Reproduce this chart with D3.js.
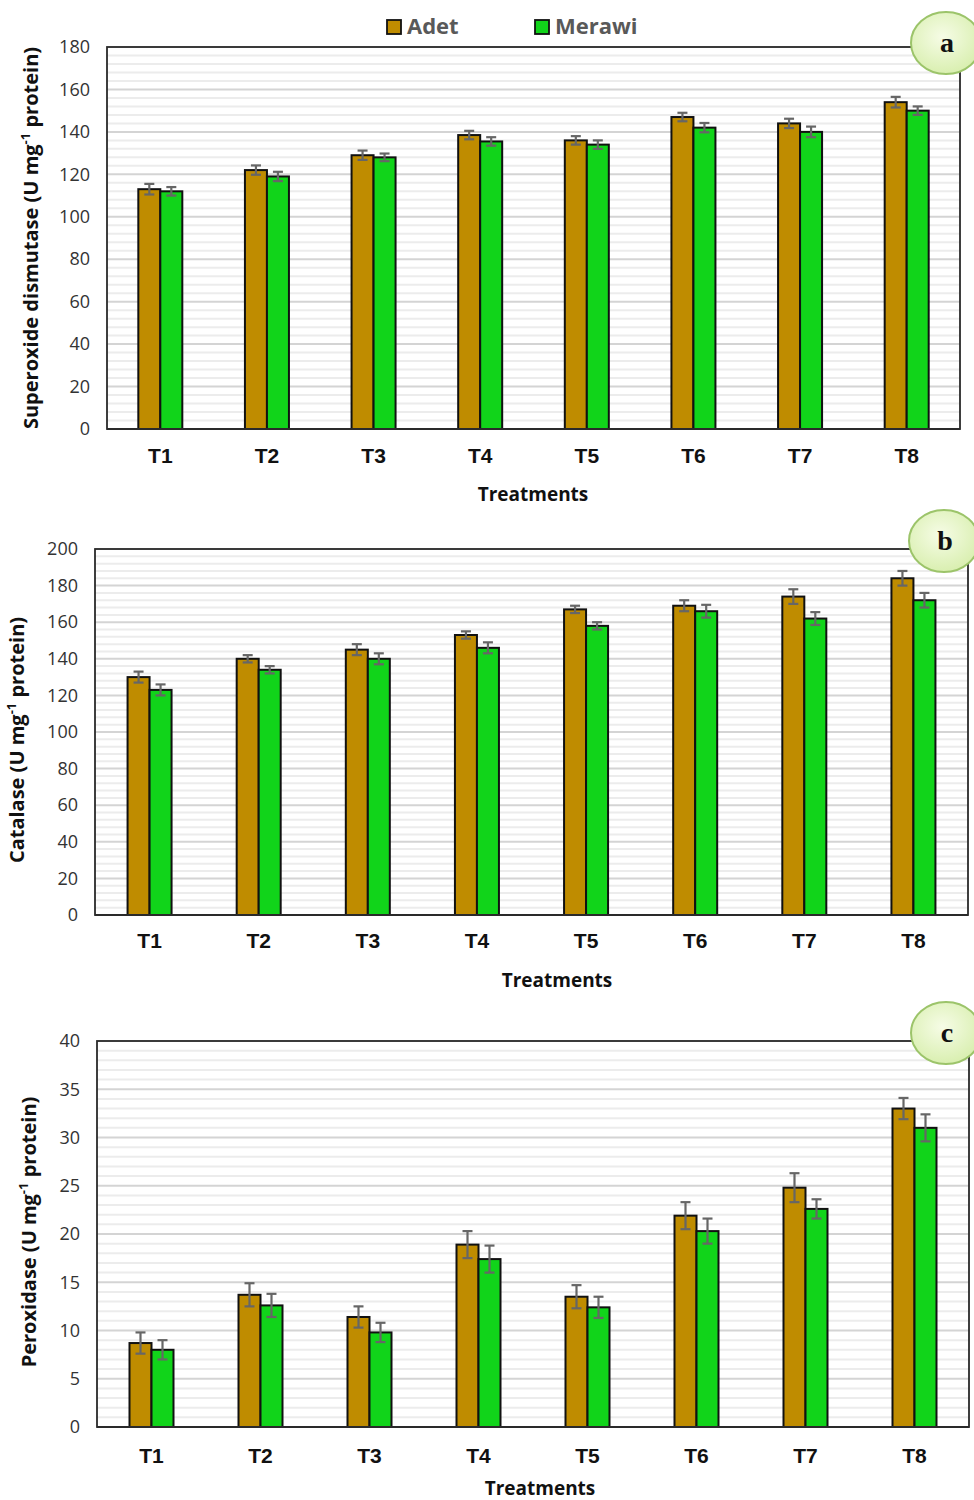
<!DOCTYPE html>
<html><head><meta charset="utf-8">
<script src="https://cdn.jsdelivr.net/npm/d3@7"></script>
<style>body{margin:0;background:#fff}svg{display:block}</style>
</head><body>
<svg id="c" width="974" height="1500"></svg>
<script>
const categories = ["T1","T2","T3","T4","T5","T6","T7","T8"];
const seriesNames = ["Adet","Merawi"];
// Panel a: Superoxide dismutase
const sodAdet   = [113,122,129,138.5,136,147,144,154];
const sodMerawi = [112,119,128,135.5,134,142,140,150];
const sodAdetErr   = [2.5,2.2,2.2,2,2,2,2.2,2.5];
const sodMerawiErr = [2,2.2,1.8,2,2,2.2,2.5,2];
const sodTicks = [0,20,40,60,80,100,120,140,160,180];
// Panel b: Catalase
const catAdet   = [130,140,145,153,167,169,174,184];
const catMerawi = [123,134,140,146,158,166,162,172];
const catAdetErr   = [3,2,3,2,2,3,4,4];
const catMerawiErr = [3,2,3,3,2,3.5,3.5,4];
const catTicks = [0,20,40,60,80,100,120,140,160,180,200];
// Panel c: Peroxidase
const poxAdet   = [8.7,13.7,11.4,18.9,13.5,21.9,24.8,33.0];
const poxMerawi = [8.0,12.6,9.8,17.4,12.4,20.3,22.6,31.0];
const poxAdetErr   = [1.1,1.2,1.1,1.4,1.2,1.4,1.5,1.1];
const poxMerawiErr = [1.0,1.2,1.0,1.4,1.1,1.3,1.0,1.4];
const poxTicks = [0,5,10,15,20,25,30,35,40];

const colors = {Adet:"#bf8c00", Merawi:"#11d41a"};
const svg = d3.select("#c");
const defs = svg.append("defs");
const rg = defs.append("radialGradient").attr("id","bg").attr("cx","45%").attr("cy","40%").attr("r","60%");
rg.append("stop").attr("offset","0%").attr("stop-color","#f6fce6");
rg.append("stop").attr("offset","100%").attr("stop-color","#d9efb0");

function panel(o){
  const g = svg.append("g");
  const x = d3.scaleBand().domain(categories).range([o.left,o.right]);
  const x1 = d3.scaleBand().domain(seriesNames).range([0, o.barW*2]);
  const y = d3.scaleLinear().domain([0,o.ticks[o.ticks.length-1]]).range([o.bottom,o.top]);
  const step = o.ticks[1]-o.ticks[0];
  const minorStep = step/5;
  const minor = d3.range(0, o.ticks[o.ticks.length-1]+1e-9, minorStep).filter(v=>!o.ticks.some(t=>Math.abs(t-v)<1e-9));
  g.selectAll(".mn").data(minor).join("line")
    .attr("x1",o.left).attr("x2",o.right).attr("y1",d=>y(d)).attr("y2",d=>y(d))
    .attr("stroke","#ececec").attr("stroke-width",2);
  g.selectAll(".mj").data(o.ticks.slice(1)).join("line")
    .attr("x1",o.left).attr("x2",o.right).attr("y1",d=>y(d)).attr("y2",d=>y(d))
    .attr("stroke","#d4d4d4").attr("stroke-width",2);
  g.append("rect").attr("x",o.left).attr("y",o.top).attr("width",o.right-o.left).attr("height",o.bottom-o.top)
    .attr("fill","none").attr("stroke","#2a2a2a").attr("stroke-width",1.8);
  const ya = d3.axisLeft(y).tickValues(o.ticks).tickSize(0).tickPadding(0);
  const yg = g.append("g").attr("transform",`translate(${o.tickX},0)`).call(ya);
  yg.select(".domain").remove();
  yg.selectAll("text").attr("font-family","Open Sans, sans-serif").attr("font-size",18).attr("fill","#333");
  const xa = d3.axisBottom(x).tickSize(0).tickPadding(0);
  const xg = g.append("g").attr("transform",`translate(0,${o.catY})`).call(xa);
  xg.select(".domain").remove();
  xg.selectAll("text").attr("font-family","Liberation Sans, Arial, sans-serif").attr("font-weight","bold").attr("font-size",21).attr("fill","#111").attr("dy","0");
  const data = [];
  categories.forEach((c,i)=>{
    data.push({c, s:"Adet", v:o.a[i], e:o.ae[i]});
    data.push({c, s:"Merawi", v:o.m[i], e:o.me[i]});
  });
  const bx = d=> x(d.c)+x.bandwidth()/2 - o.barW + x1(d.s);
  g.selectAll(".bar").data(data).join("rect")
    .attr("x",bx).attr("y",d=>y(d.v)).attr("width",x1.bandwidth()).attr("height",d=>o.bottom-y(d.v))
    .attr("fill",d=>colors[d.s]).attr("stroke","#111").attr("stroke-width",2);
  const eg = g.selectAll(".eb").data(data).join("g").attr("stroke","#666").attr("stroke-width",2.2);
  eg.append("line").attr("x1",d=>bx(d)+x1.bandwidth()/2).attr("x2",d=>bx(d)+x1.bandwidth()/2)
    .attr("y1",d=>y(d.v+d.e)).attr("y2",d=>y(d.v-d.e));
  eg.append("line").attr("x1",d=>bx(d)+x1.bandwidth()/2-5).attr("x2",d=>bx(d)+x1.bandwidth()/2+5)
    .attr("y1",d=>y(d.v+d.e)).attr("y2",d=>y(d.v+d.e));
  eg.append("line").attr("x1",d=>bx(d)+x1.bandwidth()/2-5).attr("x2",d=>bx(d)+x1.bandwidth()/2+5)
    .attr("y1",d=>y(d.v-d.e)).attr("y2",d=>y(d.v-d.e));
  g.append("line").attr("x1",o.left).attr("x2",o.right).attr("y1",o.bottom).attr("y2",o.bottom).attr("stroke","#2a2a2a").attr("stroke-width",1.8);
  g.append("text").attr("x",o.xtX).attr("y",o.xtY).attr("text-anchor","middle")
    .attr("font-family","Open Sans, sans-serif").attr("font-weight","bold").attr("font-size",19).attr("fill","#111").text("Treatments");
  const yt = g.append("text").attr("transform",`translate(${o.ytX},${o.ytY}) rotate(-90)`).attr("text-anchor","middle")
    .attr("font-family","Open Sans, sans-serif").attr("font-weight","bold").attr("font-size",20).attr("fill","#111");
  yt.append("tspan").text(o.ytitle+" (U mg");
  yt.append("tspan").attr("font-size",13).attr("dy",-8).text("-1");
  yt.append("tspan").attr("dy",8).text(" protein)");
  g.append("ellipse").attr("cx",o.badge[0]).attr("cy",o.badge[1]).attr("rx",35).attr("ry",31)
    .attr("fill","url(#bg)").attr("stroke","#9cc46a").attr("stroke-width",2);
  g.append("text").attr("x",o.badge[0]+1).attr("y",o.badge[1]+9).attr("text-anchor","middle")
    .attr("font-family","Liberation Serif, Times New Roman, serif").attr("font-weight","bold").attr("font-size",28).attr("fill","#111").text(o.letter);
}

panel({left:107,right:960,top:47,bottom:429,ticks:sodTicks,a:sodAdet,m:sodMerawi,ae:sodAdetErr,me:sodMerawiErr,
  barW:22,tickX:90,catY:463,xtX:533,xtY:501,ytX:38,ytY:238,ytitle:"Superoxide dismutase",badge:[946,43],letter:"a"});
panel({left:95,right:968,top:549,bottom:915,ticks:catTicks,a:catAdet,m:catMerawi,ae:catAdetErr,me:catMerawiErr,
  barW:22,tickX:78,catY:948,xtX:557,xtY:987,ytX:24,ytY:740,ytitle:"Catalase",badge:[944,541],letter:"b"});
panel({left:97,right:969,top:1041,bottom:1427,ticks:poxTicks,a:poxAdet,m:poxMerawi,ae:poxAdetErr,me:poxMerawiErr,
  barW:22,tickX:80,catY:1463,xtX:540,xtY:1495,ytX:36,ytY:1232,ytitle:"Peroxidase",badge:[946,1033],letter:"c"});

const lg = svg.append("g");
const legX = [387,535];
seriesNames.forEach((s,i)=>{
  lg.append("rect").attr("x",legX[i]).attr("y",20).attr("width",14).attr("height",14)
    .attr("fill",colors[s]).attr("stroke","#111").attr("stroke-width",1.8);
  lg.append("text").attr("x",legX[i]+20).attr("y",34).attr("font-family","Open Sans, sans-serif")
    .attr("font-weight","bold").attr("font-size",22).attr("fill","#595959").text(s);
});
</script>
</body></html>
